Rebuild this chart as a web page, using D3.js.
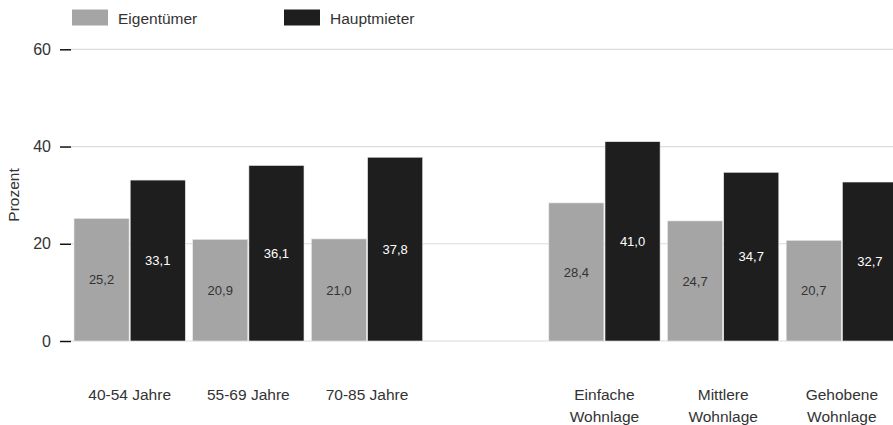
<!DOCTYPE html>
<html><head><meta charset="utf-8">
<script src="https://cdn.jsdelivr.net/npm/d3@7"></script>
<style>body{margin:0;background:#fff}svg{display:block;font-family:"Liberation Sans",Arial,sans-serif}</style>
</head><body><svg id="c" width="893" height="425"></svg>
<script>
const categories = ["40-54 Jahre","55-69 Jahre","70-85 Jahre","","Einfache\nWohnlage","Mittlere\nWohnlage","Gehobene\nWohnlage"];
const seriesNames = ["Eigentümer","Hauptmieter"];
const eigentuemer = [25.2,20.9,21.0,null,28.4,24.7,20.7];
const hauptmieter = [33.1,36.1,37.8,null,41.0,34.7,32.7];
const yTicks = [0,20,40,60];
const colors = ["#a5a5a5","#1e1e1e"];
const textColors = ["#333","#fff"];

const svg = d3.select("#c");
const y = d3.scaleLinear().domain([0,60]).range([341,49.3]);
const x = d3.scaleBand().domain(d3.range(categories.length)).range([70.3,901.2]).paddingInner(0.0625).paddingOuter(0.03125);
const xs = d3.scaleBand().domain([0,1]).range([0,x.bandwidth()]).paddingInner(0.02);

// gridlines
svg.append("g").selectAll("line").data(yTicks).join("line")
  .attr("x1",71).attr("x2",893).attr("y1",d=>y(d)).attr("y2",d=>y(d))
  .attr("stroke","#dcdcdc").attr("stroke-width",1.2);

// axis
const axis = svg.append("g").attr("transform","translate(71,0)")
  .call(d3.axisLeft(y).tickValues(yTicks).tickSize(11).tickPadding(9));
axis.select(".domain").remove();
axis.selectAll(".tick line").attr("stroke","#111").attr("stroke-width",1.5);
axis.selectAll(".tick text").attr("font-size",16).attr("fill","#333").attr("font-family","Liberation Sans, Arial, sans-serif");

svg.append("text").attr("transform","translate(19,195) rotate(-90)")
  .attr("text-anchor","middle").attr("font-size",15.5).attr("fill","#333").text("Prozent");

const series = [eigentuemer, hauptmieter];
series.forEach((vals,si)=>{
  const g = svg.append("g");
  const data = vals.map((v,i)=>({v,i})).filter(d=>d.v!=null);
  g.selectAll("rect").data(data).join("rect")
    .attr("x",d=>x(d.i)+xs(si)).attr("width",xs.bandwidth())
    .attr("y",d=>y(d.v)).attr("height",d=>y(0)-y(d.v))
    .attr("fill",colors[si]).attr("stroke","#e8e8e8").attr("stroke-width",0.6);
  g.selectAll("text").data(data).join("text")
    .attr("x",d=>x(d.i)+xs(si)+xs.bandwidth()/2)
    .attr("y",d=>(y(d.v)+y(0))/2)
    .attr("dy","0.35em").attr("text-anchor","middle").attr("font-size",13)
    .attr("fill",textColors[si]).text(d=>d.v.toFixed(1).replace(".",","));
});

// x labels
const xl = svg.append("g").selectAll("text").data(categories).join("text")
  .attr("x",(d,i)=>x(i)+x.bandwidth()/2).attr("y",400)
  .attr("text-anchor","middle").attr("font-size",15.5).attr("fill","#333");
xl.each(function(d){
  const lines = d.split("\n");
  d3.select(this).selectAll("tspan").data(lines).join("tspan")
    .attr("x",d3.select(this).attr("x")).attr("dy",(l,j)=>j===0?0:21.5).text(l=>l);
});

// legend
const leg = [{x:72,tx:118},{x:284,tx:330}];
seriesNames.forEach((n,i)=>{
  svg.append("rect").attr("x",leg[i].x).attr("y",9.5).attr("width",36).attr("height",16).attr("fill",colors[i]);
  svg.append("text").attr("x",leg[i].tx).attr("y",23.5).attr("font-size",15.5).attr("fill","#333").text(n);
});
</script></body></html>
